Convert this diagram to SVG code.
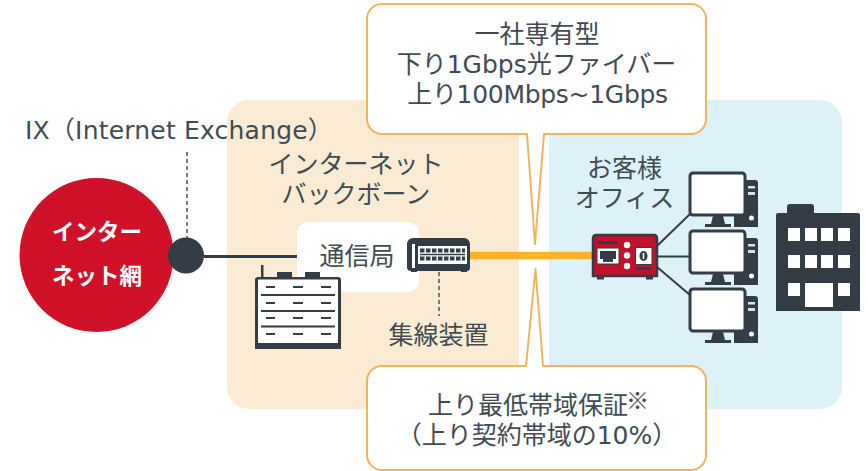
<svg xmlns="http://www.w3.org/2000/svg" width="868" height="471" viewBox="0 0 868 471">
<style>
text{font-family:"DejaVu Sans","Noto Sans CJK JP",sans-serif;font-size:25px;fill:#414b53;text-anchor:middle}
.w{fill:#fff;font-weight:700;font-size:22.5px}
.d{fill:#343c45}
.wh{fill:#fff}
.ln{stroke:#343c45;fill:none}
.dash{stroke:#4a535b;stroke-width:1.5;stroke-dasharray:4 3;fill:none}
.call{fill:#fff;stroke:#ecb65f;stroke-width:2;stroke-linejoin:round}
</style>
<defs>
<g id="pc">
<path class="d" d="M737 180h18a3 3 0 0 1 3 3v44h-24v-44z"/>
<rect x="748" y="186" width="7" height="2.500" fill="#cfe3ec"/><rect x="748" y="192" width="7" height="3" fill="#cfe3ec"/>
<circle cx="751.500" cy="218" r="2.500" class="wh"/>
<rect x="690" y="173" width="55" height="42" rx="3" class="wh" stroke="#343c45" stroke-width="3"/>
<path class="d" d="M713 216h10l2 8h6v3h-26v-3h6z"/>
</g>
</defs>
<rect id="panel-left-bg" x="227" y="100" width="292" height="309" rx="22" fill="#faebd2"/>
<rect x="497" y="100" width="22" height="309" fill="#faebd2"/>
<rect id="panel-right-bg" x="549" y="100" width="293" height="309" rx="22" fill="#ddf1f9"/>
<rect x="549" y="100" width="22" height="309" fill="#ddf1f9"/>
<rect x="297" y="222" width="122" height="70" rx="12" fill="#fff"/>
<g id="connectors">
<path class="dash" d="M187 152V238"/>
<path class="dash" d="M439 272V316"/>
<path class="ln" stroke-width="3" d="M204 256.500H297"/>
<path d="M470 255.500H592" stroke="#ffb12b" stroke-width="7.500" fill="none"/>
<path class="ln" stroke-width="2" d="M657 246L690 214M657 256.500H690M657 267L690 295"/>
</g>
<g id="callout-top">
<path class="call" d="M382 4H691a15 15 0 0 1 15 15V119a15 15 0 0 1-15 15H544L535 244L527 134H382a15 15 0 0 1-15-15V19a15 15 0 0 1 15-15z"/>
<text x="537" y="43">一社専有型</text>
<text x="536.500" y="73">下り1Gbps光ファイバー</text>
<text x="537.500" y="103" style="letter-spacing:-.3px">上り100Mbps~1Gbps</text>
</g>
<g id="callout-bottom">
<path class="call" d="M382 366H526L535.500 269L543 366H691a15 15 0 0 1 15 15V455a15 15 0 0 1-15 15H382a15 15 0 0 1-15-15V381a15 15 0 0 1 15-15z"/>
<text x="528" y="414">上り最低帯域保証</text>
<text x="637.500" y="409" style="font-size:23px;font-family:'Noto Sans CJK JP',sans-serif">※</text>
<text x="537" y="444">（上り契約帯域の10%）</text>
</g>
<g id="internet">
<circle cx="96.500" cy="255" r="77" fill="#cf1228"/>
<text class="w" x="97" y="240">インター</text>
<text class="w" x="97" y="284">ネット網</text>
</g>
<g id="ix">
<circle cx="186" cy="255.500" r="18" fill="#343c45"/>
<text x="179" y="139" style="letter-spacing:.2px">IX（Internet Exchange）</text>
</g>
<g id="backbone">
<text x="356" y="173">インターネット</text>
<text x="356" y="203">バックボーン</text>
</g>
<g id="station">
<text x="357" y="265">通信局</text>
</g>
<g id="server">
<path class="d" d="M261 265h2.500v12H277v-5h15v5h13v-5h15v5h18a3 3 0 0 1 3 3v69h-86v-69a3 3 0 0 1 3-3h3z"/>
<rect x="258" y="279.500" width="80" height="63.500" class="wh"/>
<path class="ln" stroke-width="2" d="M261 295H335M261 311H335M261 326.500H335"/>
<path class="ln" stroke-width="2" d="M266 287h9M293 287h10M321 287h10M266 303h9M293 303h10M321 303h10M266 318h9M293 318h10M321 318h10M266 334h9M293 334h10M321 334h10"/>
</g>
<g id="switch">
<path class="d" d="M413 238H464a6 6 0 0 1 6 6V268a3 3 0 0 1-3 3v1h-6v-1H417v1h-6v-1a4 4 0 0 1-4-3V244a6 6 0 0 1 6-6z"/>
<rect x="412" y="244" width="3" height="24" class="wh"/>
<rect x="418" y="246" width="49" height="18" class="wh"/>
<path stroke="#343c45" stroke-width="4" stroke-dasharray="4.500 1.500" fill="none" d="M420 250.500H465M420 258.500H465"/>
<path stroke="#343c45" stroke-width="1.500" fill="none" d="M420 254.500H465"/>
</g>
<g id="collector-label"><text x="438.500" y="344">集線装置</text></g>
<g id="office-label">
<text x="624.500" y="177">お客様</text>
<text x="624.500" y="207">オフィス</text>
</g>
<g id="router">
<path d="M596 235H654a3 3 0 0 1 3 3V276H593V238a3 3 0 0 1 3-3z" fill="#c0132a" stroke="#343c45" stroke-width="2.500"/>
<rect x="597" y="241" width="21" height="3" fill="#343c45"/>
<rect x="597" y="248" width="22" height="16" class="wh" stroke="#343c45" stroke-width="1"/>
<path class="d" d="M600 251h16v8h-3v3h-10v-3h-3z"/>
<circle cx="627" cy="245" r="3.200" class="wh"/><circle cx="627" cy="255.500" r="3.200" class="wh"/><circle cx="627" cy="266" r="3.200" class="wh"/>
<rect x="635.500" y="247.500" width="16.500" height="17" class="wh" stroke="#343c45" stroke-width="1"/>
<ellipse cx="643.500" cy="256" rx="4" ry="5" fill="#343c45"/>
<rect x="642.700" y="253" width="1.600" height="6" class="wh"/>
<rect x="636" y="267" width="15" height="3" fill="#343c45"/>
<path class="d" d="M597 277h7v2.500h-7zM646 277h7v2.500h-7z"/>
</g>
<g id="pc-1"><use href="#pc"/></g>
<g id="pc-2"><use href="#pc" y="58"/></g>
<g id="pc-3"><use href="#pc" y="116"/></g>
<g id="building">
<path class="d" d="M790 204H811a3 3 0 0 1 3 3V213H858a2 2 0 0 1 2 2V311H776V215a2 2 0 0 1 2-2H787V207a3 3 0 0 1 3-3z"/>
<g class="wh">
<rect x="788" y="228" width="12" height="13"/><rect x="805" y="228" width="12" height="13"/><rect x="821" y="228" width="12" height="13"/><rect x="838" y="228" width="12" height="13"/>
<rect x="788" y="255" width="12" height="13"/><rect x="805" y="255" width="12" height="13"/><rect x="821" y="255" width="12" height="13"/><rect x="838" y="255" width="12" height="13"/>
<rect x="788" y="283" width="12" height="13"/><rect x="805" y="283" width="28" height="24"/><rect x="838" y="283" width="12" height="13"/>
</g>
</g>
</svg>
